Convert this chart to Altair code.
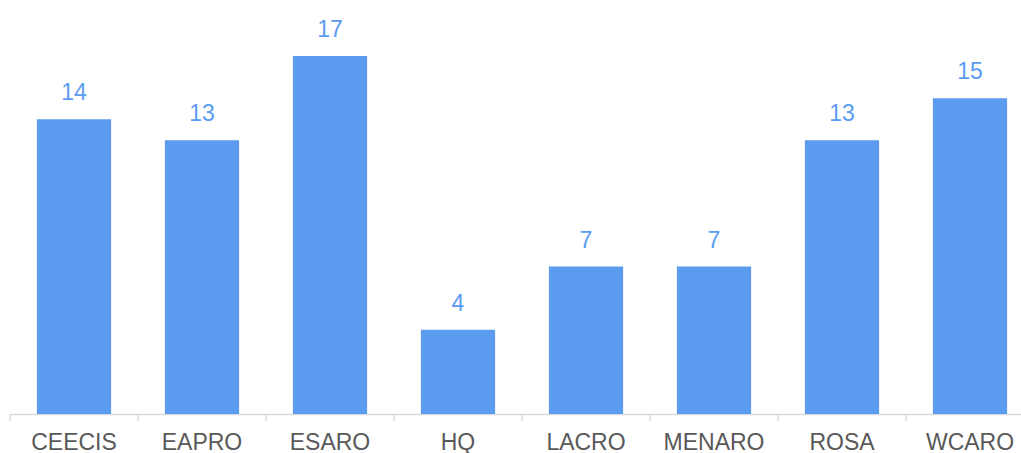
import altair as alt
import pandas as pd

regions = ["CEECIS", "EAPRO", "ESARO", "HQ", "LACRO", "MENARO", "ROSA", "WCARO"]
counts = [14, 13, 17, 4, 7, 7, 13, 15]

df = pd.DataFrame({"region": regions, "count": counts})

BLUE = "#5B9BF0"
xscale = alt.Scale(domain=regions, range=[0, 1024], paddingInner=0.42, paddingOuter=0.21)
yscale = alt.Scale(domain=[0, 18], nice=False)

base = alt.Chart(df)

bars = base.mark_bar(color=BLUE).encode(
    x=alt.X("region:N", sort=regions, scale=xscale,
            axis=alt.Axis(title=None, labelAngle=0, labelFont="Liberation Sans",
                          labelFontSize=23, labelColor="#595959", labelPadding=17,
                          ticks=False, domainColor="#d9d9d9", domainWidth=1.5,
                          grid=False)),
    y=alt.Y("count:Q", scale=yscale, axis=None),
)

labels = base.mark_text(color=BLUE, font="Liberation Sans", fontSize=23,
                        baseline="bottom", dy=-14).encode(
    x=alt.X("region:N", sort=regions, scale=xscale),
    y=alt.Y("count:Q", scale=yscale),
    text=alt.Text("count:Q"),
)

ticks = base.mark_rule(color="#d9d9d9", strokeWidth=1.5).encode(
    x=alt.X("region:N", sort=regions, bandPosition=0,
            scale=alt.Scale(domain=regions, range=[0, 1024], paddingInner=0, paddingOuter=0),
            axis=None),
    y=alt.value(379),
    y2=alt.value(386),
)

main = alt.layer(bars, labels)
chart = alt.layer(main, ticks).resolve_scale(x="independent").properties(
    width=1011, height=379,
    autosize=alt.AutoSizeParams(type="none"),
    padding={"left": 10, "top": 35, "right": 0, "bottom": 39},
).configure(background="white").configure_view(stroke=None)

chart.save("out.html", embed_options={"renderer": "svg", "actions": False})
